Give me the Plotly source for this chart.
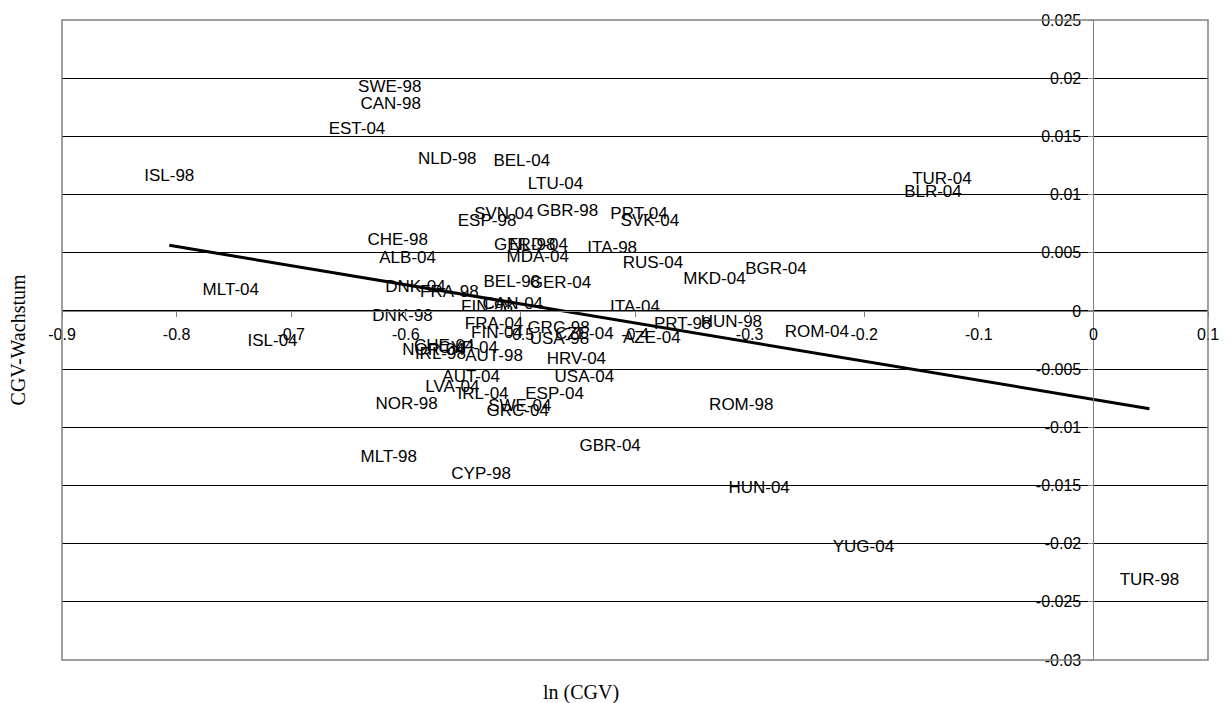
import numpy as np
import plotly.graph_objects as go

# ---- data ----
labels = ["SWE-98", "CAN-98", "EST-04", "ISL-98", "NLD-98", "BEL-04", "LTU-04", "TUR-04",
          "BLR-04", "SVN-04", "ESP-98", "GBR-98", "PRT-04", "SVK-04", "CHE-98", "GER-98",
          "NLD-04", "ITA-98", "ALB-04", "MDA-04", "RUS-04", "MKD-04", "BGR-04", "MLT-04",
          "DNK-04", "FRA-98", "BEL-98", "GER-04", "FIN-98", "CAN-04", "ITA-04", "DNK-98",
          "PRT-98", "HUN-98", "ROM-04", "ISL-04", "FRA-04", "FIN-04", "GRC-98", "CZE-04",
          "USA-98", "AZE-04", "NOR-04", "IRL-98", "CHE-04", "CYP-04", "AUT-98", "HRV-04",
          "AUT-04", "USA-04", "LVA-04", "IRL-04", "ESP-04", "NOR-98", "SWE-04", "GRC-04",
          "ROM-98", "GBR-04", "MLT-98", "CYP-98", "HUN-04", "YUG-04", "TUR-98"]

ln_cgv = [-0.6140, -0.6132, -0.6426, -0.8064, -0.5638, -0.4988, -0.4693, -0.1322,
          -0.1400, -0.5144, -0.5291, -0.4589, -0.3965, -0.3870, -0.6071, -0.4962,
          -0.4841, -0.4199, -0.5984, -0.4849, -0.3844, -0.3307, -0.2770, -0.7527,
          -0.5915, -0.5620, -0.5075, -0.4650, -0.5291, -0.5066, -0.4000, -0.6028,
          -0.3584, -0.3159, -0.2414, -0.7163, -0.5230, -0.5204, -0.4667, -0.4442,
          -0.4659, -0.3853, -0.5759, -0.5698, -0.5664, -0.5456, -0.5230, -0.4511,
          -0.5430, -0.4442, -0.5594, -0.5326, -0.4702, -0.5993, -0.5005, -0.5023,
          -0.3073, -0.4217, -0.6149, -0.5343, -0.2917, -0.2007, 0.0489]

cgv_growth = [0.01918, 0.01772, 0.01558, 0.01156, 0.01301, 0.01284, 0.01087, 0.01130,
              0.01019, 0.00830, 0.00762, 0.00856, 0.00830, 0.00762, 0.00599, 0.00557,
              0.00557, 0.00531, 0.00445, 0.00454, 0.00402, 0.00265, 0.00351, 0.00171,
              0.00197, 0.00154, 0.00240, 0.00231, 0.00026, 0.00051, 0.00026, -0.00051,
              -0.00120, -0.00103, -0.00188, -0.00265, -0.00120, -0.00197, -0.00154, -0.00205,
              -0.00248, -0.00240, -0.00342, -0.00377, -0.00308, -0.00325, -0.00394, -0.00420,
              -0.00574, -0.00574, -0.00659, -0.00719, -0.00719, -0.00805, -0.00822, -0.00865,
              -0.00813, -0.01164, -0.01259, -0.01404, -0.01524, -0.02038, -0.02320]

x_tickvals = [-0.9, -0.8, -0.7, -0.6, -0.5, -0.4, -0.3, -0.2, -0.1, 0.0, 0.1]
x_ticktext = ["-0.9", "-0.8", "-0.7", "-0.6", "-0.5", "-0.4", "-0.3", "-0.2", "-0.1", "0", "0.1"]
y_tickvals = [0.025, 0.02, 0.015, 0.01, 0.005, 0.0, -0.005, -0.01, -0.015, -0.02, -0.025, -0.03]
y_ticktext = ["0.025", "0.02", "0.015", "0.01", "0.005", "0", "-0.005", "-0.01", "-0.015",
              "-0.02", "-0.025", "-0.03"]

x_range = [-0.9, 0.1]
y_range = [-0.03, 0.025]

# ---- linear trend (least squares over the data) ----
xa = np.array(ln_cgv)
ya = np.array(cgv_growth)
slope, intercept = np.polyfit(xa, ya, 1)
trend_x = [xa.min(), xa.max()]
trend_y = [slope * v + intercept for v in trend_x]

fig = go.Figure()
fig.add_trace(go.Scatter(
    x=ln_cgv, y=cgv_growth, mode="text", text=labels,
    textposition="middle center",
    textfont=dict(family="Liberation Sans, Arial, sans-serif", size=17, color="black"),
    hoverinfo="text", showlegend=False, cliponaxis=False,
))
fig.add_trace(go.Scatter(
    x=trend_x, y=trend_y, mode="lines",
    line=dict(color="black", width=3), showlegend=False, hoverinfo="skip",
))

x_pos = (0 - y_range[0]) / (y_range[1] - y_range[0])
y_pos = (0 - x_range[0]) / (x_range[1] - x_range[0])

tickfont = dict(family="Liberation Sans, Arial, sans-serif", size=16, color="black")

fig.update_layout(
    width=1231, height=703,
    margin=dict(l=62, r=15, t=17, b=43),
    paper_bgcolor="white", plot_bgcolor="white",
    showlegend=False,
    xaxis=dict(
        range=x_range, anchor="free", position=x_pos,
        tickvals=x_tickvals, ticktext=x_ticktext,
        ticks="outside", ticklen=5, tickcolor="#808080", tickwidth=1,
        ticklabelstandoff=4,
        showline=True, linecolor="#808080", linewidth=1,
        showgrid=False, zeroline=False, tickfont=tickfont,
    ),
    yaxis=dict(
        range=y_range, anchor="free", position=y_pos,
        tickvals=y_tickvals, ticktext=y_ticktext,
        ticks="outside", ticklen=5, tickcolor="#808080", tickwidth=1,
        ticklabelstandoff=4,
        showline=True, linecolor="#808080", linewidth=1,
        showgrid=True, gridcolor="black", gridwidth=1,
        zeroline=False, tickfont=tickfont,
    ),
    shapes=[dict(type="rect", xref="paper", yref="paper", x0=0, x1=1, y0=0, y1=1,
                 line=dict(color="#808080", width=1.5), layer="above")],
    annotations=[
        dict(text="CGV-Wachstum", xref="paper", yref="paper", x=-0.038, y=0.5,
             textangle=-90, showarrow=False, xanchor="center", yanchor="middle",
             font=dict(family="Liberation Serif, Times New Roman, serif", size=20, color="black")),
        dict(text="ln (CGV)", xref="paper", yref="paper", x=0.453, y=-0.05,
             showarrow=False, xanchor="center", yanchor="middle",
             font=dict(family="Liberation Serif, Times New Roman, serif", size=20, color="black")),
    ],
)

fig.write_html("out.html", config={"displayModeBar": False},
               post_script="document.body.style.margin='0';")
